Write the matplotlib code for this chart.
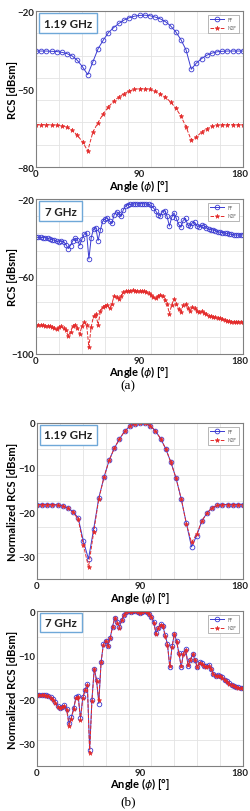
import numpy as np
import matplotlib
matplotlib.use("Agg")
import matplotlib.pyplot as plt
import matplotlib.transforms as mtransforms
from matplotlib.patches import Rectangle

plt.rcParams['font.family'] = ['Lato', 'DejaVu Sans']

# ---------------- data ----------------
ang_low = np.arange(0, 180.1, 4.5)      # 1.19 GHz sample angles
ang_high = np.arange(0, 180.1, 2.0)     # 7 GHz sample angles

# (a) 1.19 GHz RCS [dBsm]
ff_119 = [-35.4, -35.4, -35.4, -35.5, -35.6, -35.9, -36.4, -37.3, -39.0, -41.5,
          -44.5, -39.5, -34.5, -31.2, -28.3, -26.4, -24.8, -23.5, -22.6, -22.0,
          -21.7, -21.6, -21.8, -22.3, -23.0, -24.1, -25.7, -28.0, -31.0, -35.0,
          -42.4, -40.0, -38.3, -37.0, -36.2, -35.7, -35.5, -35.4, -35.4, -35.4, -35.4]
n2f_119 = [-63.7, -63.7, -63.7, -63.8, -63.9, -64.1, -64.6, -65.9, -67.8, -70.4,
           -73.8, -66.5, -62.9, -59.5, -56.9, -54.7, -53.1, -51.8, -50.8, -50.1,
           -49.9, -49.9, -50.1, -50.8, -51.8, -53.1, -55.0, -57.3, -60.4, -64.6,
           -69.7, -68.5, -66.5, -65.3, -64.4, -64.0, -63.7, -63.7, -63.7, -63.7, -63.7]

# (a) 7 GHz RCS [dBsm]
ff_7 = [-39.8, -39.8, -39.8, -39.9, -40.0, -40.3, -40.6, -41.0, -41.3, -41.8,
        -42.2, -41.6, -42.0, -43.5, -45.6, -44.0, -41.5, -40.2, -41.0, -44.0,
        -40.5, -38.0, -37.4, -51.0, -40.0, -35.5, -34.8, -41.5, -36.0, -31.5,
        -30.2, -29.8, -31.5, -32.5, -28.0, -26.5, -27.5, -28.8, -25.5, -23.5,
        -23.0, -22.8, -22.6, -22.5, -22.6, -22.5, -22.4, -22.5, -22.6, -22.8,
        -23.3, -24.5, -26.0, -28.0, -28.6, -26.5, -26.0, -29.0, -34.0, -29.5,
        -27.2, -30.0, -33.0, -34.6, -31.0, -30.0, -33.5, -34.0, -32.2, -32.0,
        -34.0, -34.5, -33.5, -33.8, -34.8, -35.5, -35.8, -36.0, -36.3, -36.8,
        -37.2, -37.3, -37.5, -37.8, -38.0, -38.3, -38.5, -38.6, -38.6, -38.6, -38.5]
n2f_7 = [-85.0, -85.0, -85.1, -85.2, -85.3, -85.6, -85.8, -86.0, -86.6, -87.3,
         -86.0, -85.8, -86.8, -87.8, -90.8, -88.5, -85.5, -84.8, -86.5, -89.7,
         -85.5, -83.3, -85.0, -96.5, -86.0, -80.5, -79.3, -85.0, -78.0, -75.5,
         -75.0, -74.5, -76.5, -74.0, -70.0, -70.5, -71.6, -70.0, -68.2, -67.6,
         -67.3, -67.3, -67.2, -67.3, -67.5, -67.6, -67.6, -67.7, -67.8, -68.5,
         -69.6, -70.8, -71.3, -70.0, -69.3, -70.0, -72.0, -74.0, -79.3, -74.5,
         -71.6, -74.0, -77.0, -78.5, -74.8, -74.2, -76.5, -77.6, -75.9, -76.2,
         -78.0, -78.5, -78.0, -78.6, -79.5, -80.2, -80.5, -80.8, -81.0, -81.3,
         -81.6, -81.9, -82.3, -82.8, -83.2, -83.3, -83.4, -83.4, -83.4, -83.4, -83.3]

# (b) 1.19 GHz normalized RCS [dBsm]
ffn_119 = [-18.3, -18.3, -18.3, -18.3, -18.4, -18.6, -19.1, -19.9, -21.3, -26.5,
           -30.5, -23.8, -16.8, -12.2, -8.4, -5.7, -3.6, -1.9, -0.7, -0.15,
           0.0, -0.05, -0.6, -1.8, -3.5, -5.8, -8.8, -12.4, -17.0, -22.5,
           -27.8, -25.3, -22.0, -20.2, -19.0, -18.5, -18.3, -18.3, -18.3, -18.3, -18.3]
n2fn_119 = [-18.3, -18.3, -18.3, -18.3, -18.4, -18.6, -19.1, -20.0, -21.6, -27.3,
            -32.3, -24.5, -17.0, -12.2, -8.4, -5.7, -3.6, -1.9, -0.7, -0.15,
            0.0, -0.05, -0.6, -1.8, -3.5, -5.8, -8.8, -12.4, -17.0, -22.6,
            -26.8, -25.0, -22.0, -20.2, -19.0, -18.5, -18.3, -18.3, -18.3, -18.3, -18.3]

# (b) 7 GHz normalized RCS [dBsm]
ffn_7 = [-18.9, -18.9, -18.9, -19.0, -19.0, -19.2, -19.5, -19.9, -20.6, -21.5,
         -21.9, -21.6, -21.3, -22.2, -25.4, -24.0, -22.0, -19.5, -19.2, -24.2,
         -19.5, -17.8, -16.5, -31.3, -20.0, -13.0, -15.5, -20.9, -11.5, -7.5,
         -6.7, -7.8, -6.0, -3.5, -1.5, -2.5, -3.7, -2.0, -0.8, -0.3,
         -0.1, -0.2, -0.1, 0.0, -0.3, -0.5, -0.3, -0.1, -0.2, -0.6,
         -1.3, -2.5, -5.0, -3.8, -3.0, -3.3, -5.5, -7.5, -12.7, -8.0,
         -5.2, -6.8, -9.5, -12.7, -9.5, -8.6, -12.5, -11.0, -9.7, -11.0,
         -12.7, -11.6, -11.8, -12.4, -12.5, -12.3, -13.0, -14.2, -14.6, -14.5,
         -14.6, -15.0, -15.5, -15.9, -16.3, -16.6, -16.9, -17.1, -17.2, -17.3, -17.3]
n2fn_7 = [-18.9, -18.9, -19.0, -19.0, -19.1, -19.3, -19.6, -20.0, -20.7, -21.6,
          -22.0, -21.7, -21.4, -22.4, -26.0, -24.3, -22.2, -19.6, -19.4, -24.6,
          -19.7, -17.9, -16.7, -32.0, -20.3, -13.2, -15.7, -20.2, -11.6, -7.6,
          -6.8, -7.9, -6.1, -3.6, -1.6, -2.6, -3.8, -2.1, -0.9, -0.3,
          -0.1, -0.2, -0.1, 0.0, -0.3, -0.5, -0.3, -0.1, -0.2, -0.6,
          -1.4, -2.6, -5.2, -3.9, -3.1, -3.4, -5.7, -7.7, -12.4, -8.2,
          -5.3, -6.9, -9.7, -12.5, -9.6, -8.7, -12.3, -11.1, -9.8, -11.1,
          -12.6, -11.7, -11.9, -12.5, -12.6, -12.4, -13.1, -14.3, -14.7, -14.6,
          -14.7, -15.1, -15.6, -16.0, -16.4, -16.7, -17.0, -17.2, -17.3, -17.4, -17.4]

x_ticks = [0, 90, 180]
freq_labels = ["1.19 GHz", "7 GHz", "1.19 GHz", "7 GHz"]

# ---------------- figure ----------------
W, H = 251, 812
fig = plt.figure(figsize=(W / 100, H / 100), dpi=100)
fig.patch.set_facecolor('white')

FF_C = '#3b3bd2'
N2F_C = '#e42a2a'


def add_ax(l, t, r, b):
    ax = fig.add_axes([l / W, 1 - b / H, (r - l) / W, (b - t) / H])
    ax._px = (l, t, r, b)
    return ax


def style(ax, ylim, yticks, ylabel, ngrid):
    l, t, r, b = ax._px
    ax.set_xlim(0, 180)
    ax.set_ylim(*ylim)
    ax.set_xticks(x_ticks)
    ax.set_yticks(yticks)
    ax.set_xticks(np.arange(0, 181, 20), minor=True)
    ax.set_yticks(np.linspace(ylim[0], ylim[1], ngrid + 1), minor=True)
    ax.grid(which='minor', color='#e3e3e3', lw=0.6)
    ax.grid(which='major', visible=False)
    ax.set_axisbelow(True)
    ax.tick_params(which='both', length=0, labelsize=7.0, pad=1.2, colors='#222222')
    for lbl in ax.get_xticklabels() + ax.get_yticklabels():
        lbl.set_fontweight('bold')
    # nudge the last x label slightly inward, as in the reference
    last = ax.get_xticklabels()[-1]
    last.set_transform(last.get_transform() +
                       mtransforms.ScaledTranslation(-3 / 100, 0, fig.dpi_scale_trans))
    for s in ax.spines.values():
        s.set_color('#808080')
        s.set_linewidth(0.8)
    ax.set_xlabel('Angle ($\\phi$) [°]', fontsize=8.0, fontweight='bold', va='center')
    ax.xaxis.set_label_coords(0.5, -17.5 / (b - t))
    ax.set_ylabel(ylabel, fontsize=8.0, fontweight='bold', va='center')
    ax.yaxis.set_label_coords((12 - l) / (r - l), 0.5)
    leg = ax.legend(loc='upper right', fontsize=3.4, frameon=True, fancybox=False,
                    handlelength=3.0, borderpad=0.5, labelspacing=0.7,
                    edgecolor='#9a9a9a', framealpha=1, borderaxespad=0.8)
    leg.get_frame().set_linewidth(0.5)
    for t_ in leg.get_texts():
        t_.set_color('#666666')


def plot_pair(ax, ang, ff, n2f, msz):
    ax.plot(ang, ff, color=FF_C, lw=0.7, marker='o', ms=msz, mfc='none', mew=0.6, label='FF')
    ax.plot(ang, n2f, color=N2F_C, lw=0.7, ls='--', marker='*', ms=msz, mew=0.4, label='N2F')


def freq_box(l, t, r, b, text):
    fig.add_artist(Rectangle((l / W, 1 - b / H), (r - l) / W, (b - t) / H,
                             transform=fig.transFigure, fc='white', ec='#6fa8d8', lw=1.0, zorder=5))
    fig.text((l + r) / 2 / W, 1 - (t + b) / 2 / H, text, ha='center', va='center',
             fontsize=8.3, fontweight='bold', color='#222222', zorder=6)


ax1 = add_ax(36, 12, 243, 168)
plot_pair(ax1, ang_low, ff_119, n2f_119, 3.4)
style(ax1, (-80, -20), [-80, -50, -20], 'RCS [dBsm]', 7)

ax2 = add_ax(36, 200, 243, 355)
plot_pair(ax2, ang_high, ff_7, n2f_7, 3.3)
style(ax2, (-100, -20), [-100, -60, -20], 'RCS [dBsm]', 9)

ax3 = add_ax(37, 424, 243, 580)
plot_pair(ax3, ang_low, ffn_119, n2fn_119, 3.4)
style(ax3, (-35, 0), [-30, -20, -10, 0], 'Normalized RCS [dBsm]', 6)

ax4 = add_ax(37, 612, 243, 767)
plot_pair(ax4, ang_high, ffn_7, n2fn_7, 3.3)
style(ax4, (-35, 0), [-30, -20, -10, 0], 'Normalized RCS [dBsm]', 6)

freq_box(39, 14, 97, 34, freq_labels[0])
freq_box(39, 202, 82, 222, freq_labels[1])
freq_box(40, 426, 97, 446, freq_labels[2])
freq_box(40, 614, 82, 633, freq_labels[3])

fig.text(128 / W, 1 - 386 / H, '(a)', ha='center', va='center', fontsize=9.5,
         family=['Liberation Serif'])
fig.text(128 / W, 1 - 802 / H, '(b)', ha='center', va='center', fontsize=9.5,
         family=['Liberation Serif'])

fig.savefig('out.png', dpi=100)
